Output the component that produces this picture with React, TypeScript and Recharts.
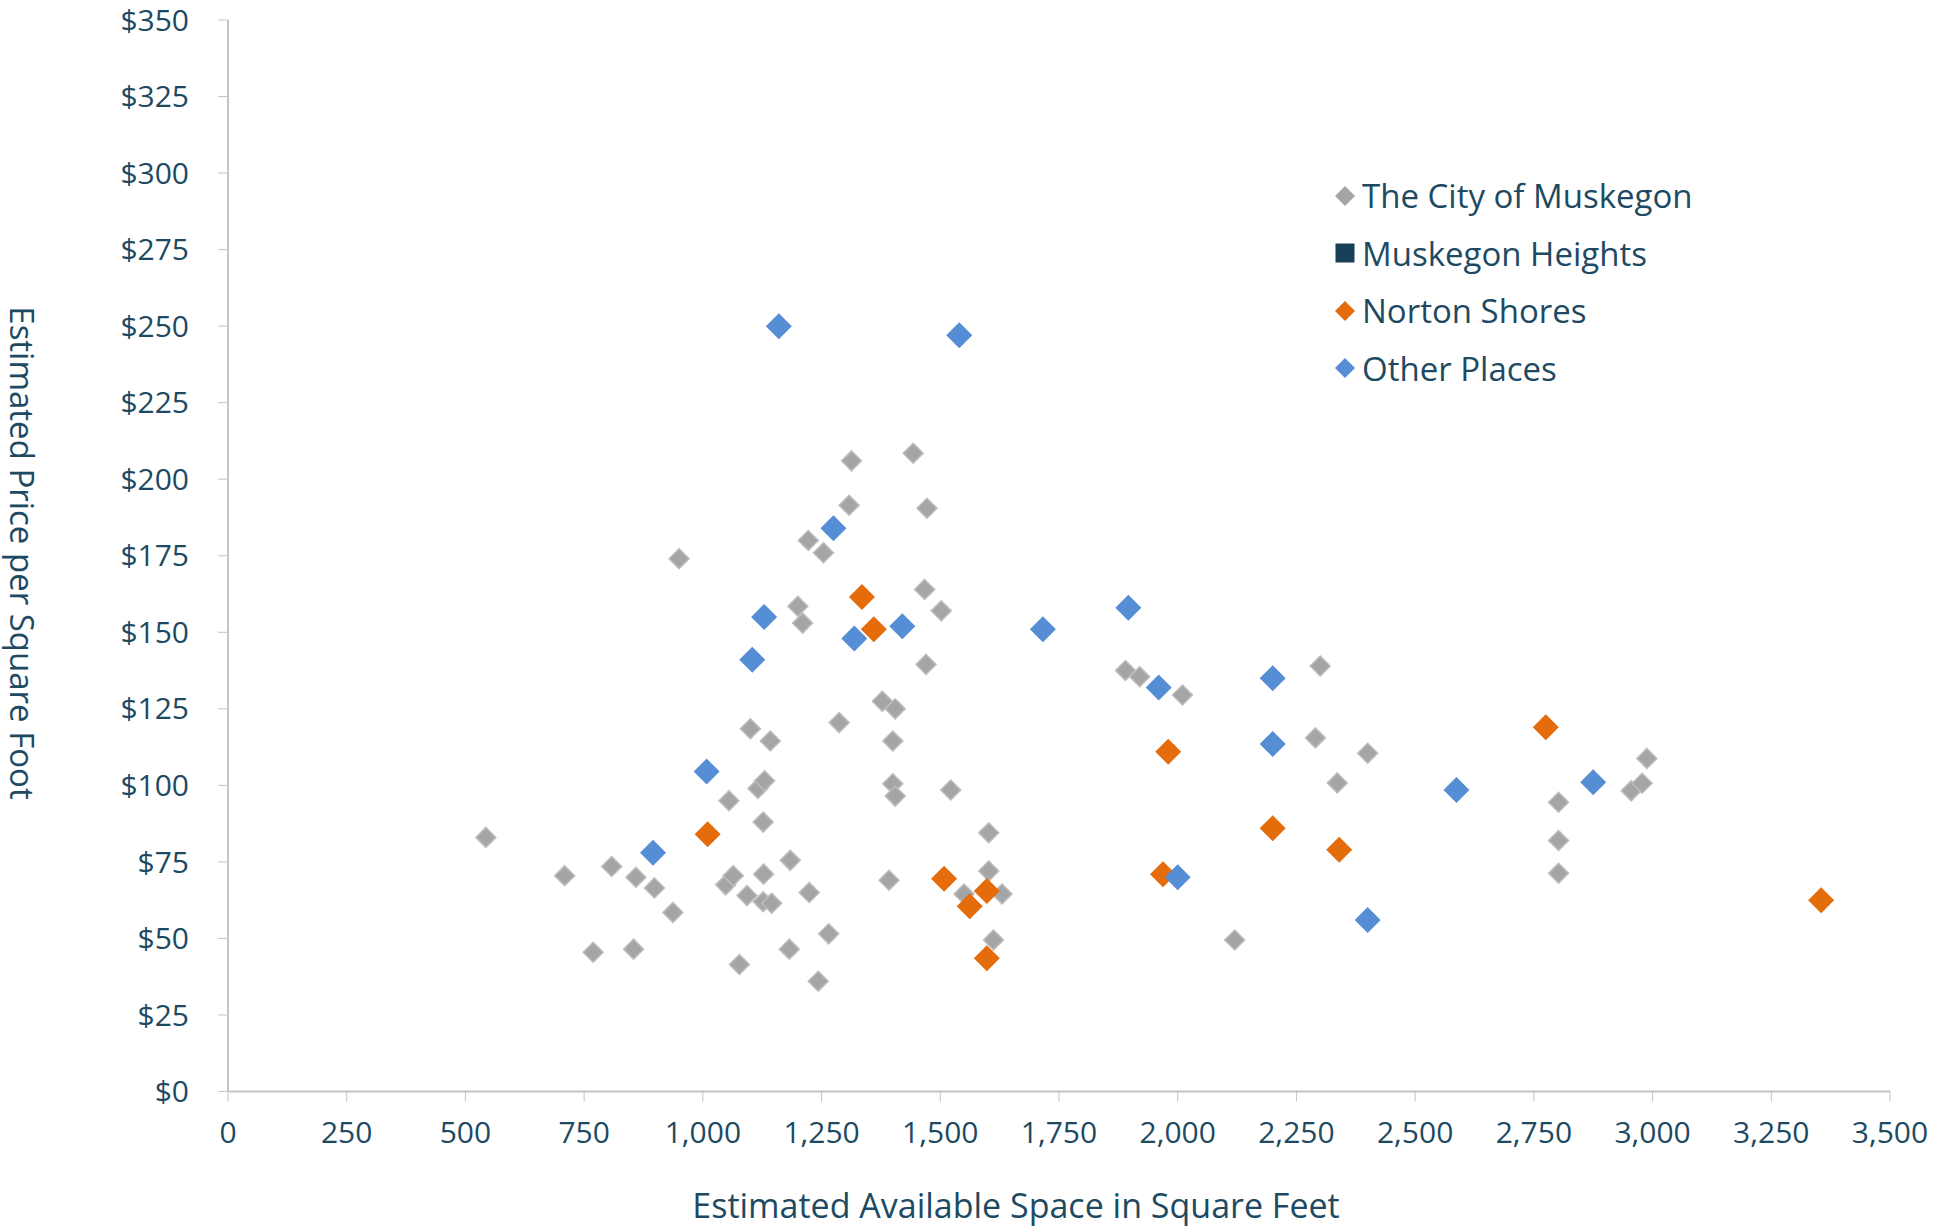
import React from "react";
import { ScatterChart, Scatter, XAxis, YAxis, Legend, Label } from "recharts";

type Pt = { x: number; y: number };
const pts = (arr: number[][]): Pt[] => arr.map(([x, y]) => ({ x, y }));

// estimated available space (sq ft) vs price per sq ft
const cityOfMuskegon = pts([
  [543, 83], [709, 70.5], [769, 45.5], [808, 73.5], [854, 46.5], [859, 70], [898, 66.5],
  [937, 58.5], [950, 174], [1055, 95], [1048, 67.5], [1064, 70.5], [1077, 41.5], [1093, 64],
  [1100, 118.5], [1116, 99], [1130, 101.5], [1127, 88], [1128, 71], [1127, 62], [1142, 114.5],
  [1145, 61.5], [1184, 75.5], [1182, 46.5], [1200, 158.5], [1210, 153], [1222, 180], [1224, 65],
  [1254, 176], [1243, 36], [1265, 51.5], [1287, 120.5], [1308, 191.5], [1313, 206], [1378, 127.5],
  [1392, 69], [1400, 114.5], [1400, 100.5], [1405, 96.5], [1405, 125], [1443, 208.5], [1467, 164],
  [1472, 190.5], [1470, 139.5], [1502, 157], [1522, 98.5], [1550, 64.5], [1602, 84.5], [1602, 72],
  [1612, 49.5], [1630, 64.5], [1890, 137.5], [1920, 135.5], [2010, 129.5], [2120, 49.5],
  [2290, 115.5], [2300, 139], [2336, 100.8], [2400, 110.5], [2802, 94.5], [2802, 82], [2802, 71.3],
  [2955, 98.2], [2978, 100.7], [2988, 108.8],
]);
const muskegonHeights: Pt[] = [];
const nortonShores = pts([
  [1335, 161.5], [1360, 151], [1010, 84], [1508, 69.5], [1598, 65.5], [1562, 60.5], [1598, 43.5],
  [1980, 111], [1969, 71], [2200, 86], [2340, 79], [2775, 119], [3355, 62.5],
]);
const otherPlaces = pts([
  [1160, 250], [1540, 247], [1275, 184], [1129, 155], [1104, 141], [1319, 148], [1420, 152],
  [1716, 151], [1896, 158], [1960, 132], [2200, 135], [2200, 113.5], [1008, 104.5], [895, 78],
  [2000, 70], [2400, 56], [2587, 98.5], [2875, 101],
]);

const xTicks = [0, 250, 500, 750, 1000, 1250, 1500, 1750, 2000, 2250, 2500, 2750, 3000, 3250, 3500];
const yTicks = [0, 25, 50, 75, 100, 125, 150, 175, 200, 225, 250, 275, 300, 325, 350];

const FONT = "'Open Sans', sans-serif";
const TEXT = "#1d4a62";
const AXIS = "#c4c4c4";
const GRAY = "#a5a5a5";
const NAVY = "#173f58";
const ORANGE = "#e46c0a";
const BLUE = "#558ed5";

const diamond = (r: number, fill: string, stroke = "none") => (props: any) => {
  const { cx, cy } = props;
  return (
    <polygon
      points={`${cx},${cy - r} ${cx + r},${cy} ${cx},${cy + r} ${cx - r},${cy}`}
      fill={fill}
      stroke={stroke}
      strokeWidth={1.5}
    />
  );
};

const legendItems = [
  { name: "The City of Muskegon", color: GRAY, kind: "diamond" },
  { name: "Muskegon Heights", color: NAVY, kind: "square" },
  { name: "Norton Shores", color: ORANGE, kind: "diamond" },
  { name: "Other Places", color: BLUE, kind: "diamond" },
];

const renderLegend = () => (
  <div style={{ display: "flex", flexDirection: "column" }}>
    {legendItems.map((it) => (
      <div key={it.name} style={{ height: 57.5, display: "flex", alignItems: "center" }}>
        <svg width={22} height={22} style={{ flex: "none" }}>
          {it.kind === "square" ? (
            <rect x={1.5} y={1.5} width={19} height={19} fill={it.color} />
          ) : (
            <polygon points="11,1 21,11 11,21 1,11" fill={it.color} />
          )}
        </svg>
        <span style={{ marginLeft: 6, fontSize: 33, fontFamily: FONT, color: TEXT, whiteSpace: "nowrap" }}>
          {it.name}
        </span>
      </div>
    ))}
  </div>
);

export default function App() {
  const tickStyle = { fill: TEXT, fontSize: 30, fontFamily: FONT };
  return (
    <div style={{ position: "absolute", left: 0, top: 0, background: "#fff" }}>
      <ScatterChart width={1958} height={1228} margin={{ top: 20, right: 68, bottom: 76.5, left: 128 }}>
        <XAxis
          type="number"
          dataKey="x"
          domain={[0, 3500]}
          ticks={xTicks}
          interval={0}
          height={60}
          tickSize={10}
          tickMargin={20}
          tick={tickStyle}
          tickFormatter={(v: number) => v.toLocaleString("en-US")}
          axisLine={{ stroke: AXIS, strokeWidth: 2 }}
          tickLine={{ stroke: AXIS }}
        >
          <Label
            content={() => (
              <text x={1016} y={1218} textAnchor="middle" fill={TEXT} fontSize={34} fontFamily={FONT}>
                Estimated Available Space in Square Feet
              </text>
            )}
          />
        </XAxis>
        <YAxis
          type="number"
          dataKey="y"
          domain={[0, 350]}
          ticks={yTicks}
          interval={0}
          width={100}
          tickSize={10}
          tickMargin={29}
          tick={tickStyle}
          tickFormatter={(v: number) => `$${v}`}
          axisLine={{ stroke: AXIS, strokeWidth: 2 }}
          tickLine={{ stroke: AXIS }}
        >
          <Label
            content={() => (
              <text
                x={22}
                y={553}
                transform="rotate(90, 22, 553)"
                textAnchor="middle"
                dominantBaseline="central"
                fill={TEXT}
                fontSize={33}
                fontFamily={FONT}
              >
                Estimated Price per Square Foot
              </text>
            )}
          />
        </YAxis>
        <Legend
          layout="vertical"
          align="center"
          verticalAlign="middle"
          content={renderLegend}
          wrapperStyle={{ top: 167, left: 1334, width: 500 }}
        />
        <Scatter name="The City of Muskegon" data={cityOfMuskegon} shape={diamond(10, GRAY, "#bdbdbd")} isAnimationActive={false} />
        <Scatter name="Muskegon Heights" data={muskegonHeights} fill={NAVY} isAnimationActive={false} />
        <Scatter name="Norton Shores" data={nortonShores} shape={diamond(13, ORANGE)} isAnimationActive={false} />
        <Scatter name="Other Places" data={otherPlaces} shape={diamond(13, BLUE)} isAnimationActive={false} />
      </ScatterChart>
    </div>
  );
}
